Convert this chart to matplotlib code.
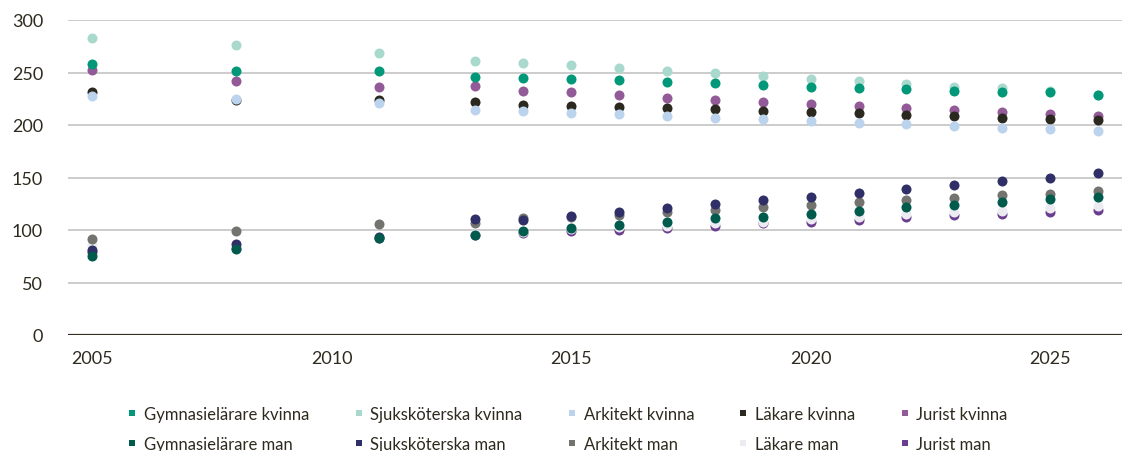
import matplotlib
matplotlib.use("Agg")
import matplotlib.pyplot as plt
from matplotlib.lines import Line2D

years = [2005, 2008, 2011, 2013, 2014, 2015, 2016, 2017, 2018, 2019,
         2020, 2021, 2022, 2023, 2024, 2025, 2026]

gym_kvinna = [258, 251, 251, 246, 245, 243.5, 242.5, 241, 240, 238.5,
              236, 235, 234.5, 232.5, 231.5, 231, 229]
sjuk_kvinna = [283, 276, 269, 261, 259.5, 257.5, 254.5, 251.5, 250, 247,
               244, 242, 239, 236.5, 235, 232, 229]
ark_kvinna = [227.5, 225, 220.5, 214, 213.5, 211.5, 210.5, 209, 207, 205.5,
              204, 202, 200.5, 199, 197, 196, 194.5]
lak_kvinna = [231.5, 223.5, 223.5, 221.5, 219.5, 218.5, 217, 216, 215, 213,
              212, 211, 210, 209, 207, 206, 205]
jur_kvinna = [252.5, 241.5, 236.5, 237.5, 232.5, 231, 228.5, 225.5, 224, 222,
              220, 218, 216, 214.5, 212, 210.5, 209]

gym_man = [75.5, 82, 92.5, 95.5, 99.5, 102, 105, 107.5, 111, 112.5,
           115.5, 118.5, 121.5, 123.5, 126.5, 129.5, 131.5]
sjuk_man = [81, 86.5, 93, 110.5, 110, 113.5, 117.5, 120.5, 125, 128.5,
            131.5, 135.5, 139.5, 143, 146.5, 150, 154.5]
ark_man = [91, 99, 106, 107, 111, 112, 114.5, 117.5, 119, 121.5,
           124, 126.5, 128.5, 130.5, 133, 134.5, 137.5]
lak_man = [85.5, 84, 93, 96, 98.5, 101, 103, 104, 106.5, 108,
           110.5, 112, 115, 117, 118.5, 120.5, 123]
jur_man = [79, 83, 92, 95, 97, 99.5, 100, 102, 104, 106.5,
           108, 110, 112.5, 114.5, 115.5, 117.5, 119.5]

labels = ["Gymnasielärare kvinna", "Sjuksköterska kvinna", "Arkitekt kvinna",
          "Läkare kvinna", "Jurist kvinna",
          "Gymnasielärare man", "Sjuksköterska man", "Arkitekt man",
          "Läkare man", "Jurist man"]
series = [gym_kvinna, sjuk_kvinna, ark_kvinna, lak_kvinna, jur_kvinna,
          gym_man, sjuk_man, ark_man, lak_man, jur_man]
colors = ["#009878", "#a9d9cd", "#bcd3ee", "#2b2820", "#935a98",
          "#005b4d", "#302f68", "#73736f", "#ebebf1", "#6a3d8f"]

text_col = "#2e2a1e"
plt.rcParams['font.family'] = ['Lato', 'DejaVu Sans']

fig = plt.figure(figsize=(11.26, 4.52), dpi=100)
ax = fig.add_axes([68/1126, 1-336/452, (1122-68)/1126, 315/452])

# later series in the list are drawn underneath
n = len(series)
for i, (vals, col) in enumerate(zip(series, colors)):
    ax.scatter(years, vals, s=52, color=col, linewidths=0, zorder=3 + (n - i))

ax.set_xlim(2004.5, 2026.5)
ax.set_ylim(0, 300)
ax.set_yticks(range(0, 301, 50))
ax.set_xticks([2005, 2010, 2015, 2020, 2025])
ax.grid(axis='y', color='#c4c4c4', linewidth=1.2, zorder=0)
ax.axhline(0, color='#3a3020', linewidth=1.6, zorder=2)
for sp in ax.spines.values():
    sp.set_visible(False)
ax.tick_params(axis='both', length=0, labelsize=13, colors=text_col)
ax.tick_params(axis='y', pad=18)
ax.tick_params(axis='x', pad=11)

handles = [Line2D([], [], marker='s', linestyle='none', markersize=5,
                  markerfacecolor=c, markeredgewidth=0) for c in colors]
# fill column-wise so kvinna on row 1 and man on row 2
order = []
for j in range(5):
    order += [j, j + 5]
fig.legend([handles[k] for k in order], [labels[k] for k in order],
           ncol=5, loc='center', bbox_to_anchor=(0.504, 1-430/452),
           frameon=False, fontsize=12, handlelength=0.6, handletextpad=0.4,
           columnspacing=2.66, labelspacing=0.84, labelcolor=text_col)

fig.savefig("out.png", dpi=100)
